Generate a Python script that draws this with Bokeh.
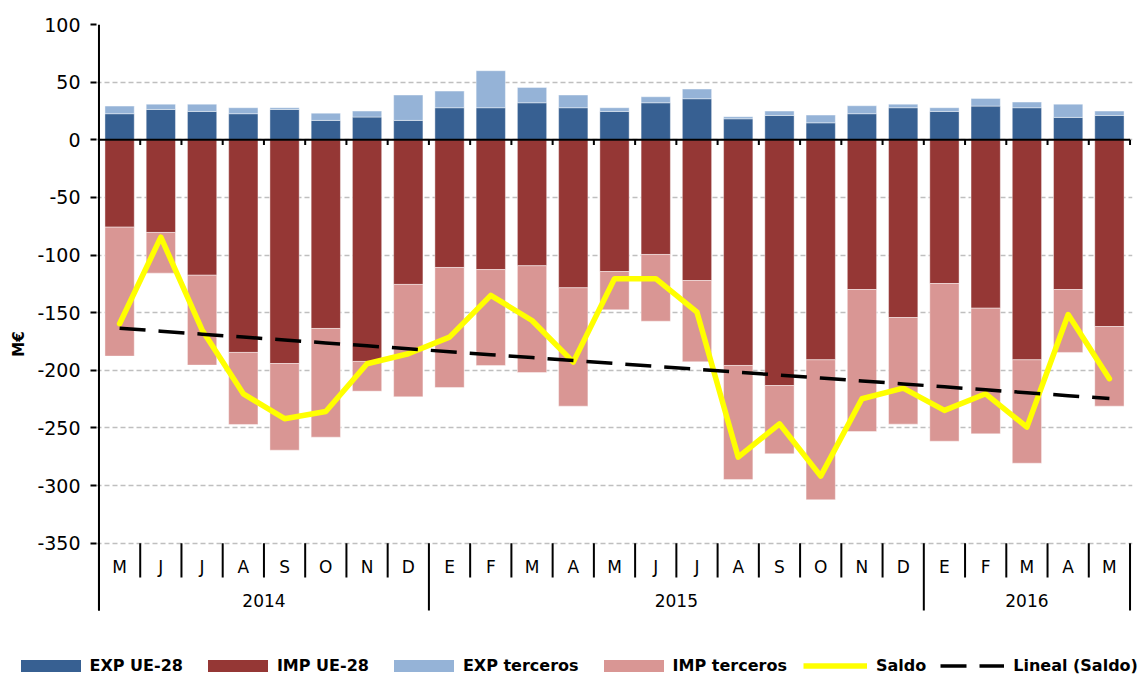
import numpy as np
from bokeh.plotting import figure
from bokeh.models import ColumnDataSource, FixedTicker, Range1d, Legend, LegendItem
from bokeh.core.properties import value
from bokeh.embed import file_html
from bokeh.resources import INLINE

# ---------------- data ----------------
months = ["M", "J", "J", "A", "S", "O", "N", "D",
          "E", "F", "M", "A", "M", "J", "J", "A", "S", "O", "N", "D",
          "E", "F", "M", "A", "M"]
years = ["2014", "2015", "2016"]
year_counts = [8, 12, 5]

exp_ue = [22.6, 26.3, 24.6, 22.6, 26.3, 16.8, 19.7, 16.8,
          27.8, 27.8, 32.1, 27.8, 24.6, 32.1, 35.6, 18.2, 21.1, 14.7, 22.6, 27.8,
          24.6, 29.2, 27.8, 19.4, 21.1]
exp_ter = [6.6, 4.6, 6.3, 5.2, 1.5, 6.3, 5.2, 22.0,
           14.4, 32.1, 13.3, 11.0, 3.2, 5.2, 8.4, 1.8, 3.8, 6.7, 6.9, 3.1,
           3.2, 6.7, 4.9, 11.5, 3.8]
imp_ue = [-75.8, -80.4, -117.5, -184.5, -194.1, -163.7, -192.3, -125.5,
          -110.8, -112.6, -109.3, -128.4, -114.3, -99.5, -122.1, -195.8, -213.2, -190.9, -129.9, -154.2,
          -124.7, -146.1, -190.9, -129.9, -162.0]
imp_ter = [-111.9, -35.3, -78.0, -62.5, -75.2, -94.3, -25.8, -97.5,
           -104.1, -83.2, -92.6, -102.7, -33.2, -57.9, -70.5, -98.9, -59.2, -121.4, -123.2, -92.5,
           -136.8, -109.0, -89.7, -54.6, -69.1]
saldo = [-159.6, -84.5, -165.0, -220.4, -242.0, -235.7, -194.3, -185.6,
         -171.2, -135.0, -156.8, -192.9, -120.5, -120.5, -149.6, -275.4, -246.4, -291.8, -224.7, -215.5,
         -234.8, -220.4, -249.3, -151.6, -207.3]
y_ticks = [100, 50, 0, -50, -100, -150, -200, -250, -300, -350]

# ---------------- colours ----------------
C_EXP_UE = "#376092"
C_IMP_UE = "#953735"
C_EXP_TER = "#95B3D7"
C_IMP_TER = "#D99694"
C_SALDO = "#FFFF00"
FONT = "DejaVu Sans"
NBSP = "\u00a0"

n = len(months)
xs = list(range(n))
src = ColumnDataSource(dict(x=xs, exp_ue=exp_ue, exp_ter=exp_ter,
                            imp_ue=imp_ue, imp_ter=imp_ter, saldo=saldo))

# linear trend of Saldo
coef = np.polyfit(np.array(xs, dtype=float), np.array(saldo), 1)
trend = list(np.polyval(coef, np.array(xs, dtype=float)))

Y_BOTTOM = -409.25
p = figure(width=1145, height=612, output_backend="svg", toolbar_location=None,
           x_range=Range1d(-0.56, n - 0.44), y_range=Range1d(Y_BOTTOM, 100),
           x_axis_location=None, min_border_left=96, min_border_right=13,
           min_border_top=24, min_border_bottom=1)
p.outline_line_color = None
p.xgrid.visible = False
p.background_fill_color = "white"

# y axis
ya = p.yaxis[0]
ya.ticker = FixedTicker(ticks=y_ticks)
ya.major_label_overrides = {t: str(t) for t in y_ticks}
ya.axis_line_color = None
ya.major_tick_out = 6
ya.major_tick_in = 0
ya.major_tick_line_width = 2
ya.major_tick_line_color = "black"
ya.minor_tick_line_color = None
ya.major_label_standoff = 10
ya.major_label_text_font = FONT
ya.major_label_text_font_size = "19px"
ya.major_label_text_color = "black"
ya.axis_label = "M€" + NBSP * 10
ya.axis_label_text_font = FONT
ya.axis_label_text_font_size = "15px"
ya.axis_label_text_font_style = "bold"
ya.axis_label_text_color = "black"
ya.axis_label_standoff = 6

p.ygrid.grid_line_color = "#BFBFBF"
p.ygrid.grid_line_dash = "5 3"
p.ygrid.grid_line_width = 1.5

# bars
pos = p.vbar_stack(["exp_ue", "exp_ter"], x="x", width=0.71, source=src,
                   color=[C_EXP_UE, C_EXP_TER], line_color="white", line_width=0.6, line_alpha=0.7)
neg = p.vbar_stack(["imp_ue", "imp_ter"], x="x", width=0.71, source=src,
                   color=[C_IMP_UE, C_IMP_TER], line_color="white", line_width=0.6, line_alpha=0.7)

# zero line and small category ticks under it
p.segment(x0=[-0.5], y0=[0], x1=[n - 0.5], y1=[0], line_color="black", line_width=2)
bounds = [i + 0.5 for i in range(-1, n)]
p.segment(x0=bounds, y0=[0] * len(bounds), x1=bounds, y1=[-4.6] * len(bounds),
          line_color="black", line_width=2)

# left axis line (down through the category label area)
p.segment(x0=[-0.5], y0=[100], x1=[-0.5], y1=[-408.3], line_color="black", line_width=2)

# category label separators
year_bounds = [-0.5]
acc = -0.5
for c in year_counts:
    acc += c
    year_bounds.append(acc)
month_bounds = [b for b in bounds if b not in year_bounds]
p.segment(x0=month_bounds, y0=[-350] * len(month_bounds), x1=month_bounds,
          y1=[-379.7] * len(month_bounds), line_color="black", line_width=2)
p.segment(x0=year_bounds, y0=[-350] * len(year_bounds), x1=year_bounds,
          y1=[-408.3] * len(year_bounds), line_color="black", line_width=2)

# month and year labels
p.text(x=xs, y=[-370.8] * n, text=months, text_font=value(FONT), text_font_size="17px",
       text_align="center", text_baseline="middle", text_color="black")
year_centers = [(year_bounds[i] + year_bounds[i + 1]) / 2 for i in range(len(years))]
p.text(x=year_centers, y=[-399.7] * len(years), text=years, text_font=value(FONT),
       text_font_size="17px", text_align="center", text_baseline="middle", text_color="black")

# lines
r_saldo = p.line(x="x", y="saldo", source=src, line_color=C_SALDO, line_width=5.5,
                 line_join="round", line_cap="round")
r_trend = p.line(x=xs, y=trend, line_color="black", line_width=3.5, line_dash="26 13")

# ---------------- legend strip (separate root, not frame-aligned) ----------------
lf = figure(width=1145, height=64, output_backend="svg", toolbar_location=None,
            x_range=Range1d(0, 1), y_range=Range1d(0, 1),
            x_axis_location=None, y_axis_location=None,
            min_border_left=0, min_border_right=0, min_border_top=0, min_border_bottom=0)
lf.outline_line_color = None
lf.grid.visible = False
lf.background_fill_color = "white"

# legend-only swatch renderers: zero-size marks that draw nothing themselves
l_exp_ue = lf.vbar(x=[0.5], bottom=[0.5], top=[0.5], width=0.0, fill_color=C_EXP_UE, line_color=None)
l_imp_ue = lf.vbar(x=[0.5], bottom=[0.5], top=[0.5], width=0.0, fill_color=C_IMP_UE, line_color=None)
l_exp_ter = lf.vbar(x=[0.5], bottom=[0.5], top=[0.5], width=0.0, fill_color=C_EXP_TER, line_color=None)
l_imp_ter = lf.vbar(x=[0.5], bottom=[0.5], top=[0.5], width=0.0, fill_color=C_IMP_TER, line_color=None)
l_saldo = lf.line(x=[0.5], y=[0.5], line_color=C_SALDO, line_width=5.5)
l_trend = lf.line(x=[0.5], y=[0.5], line_color="black", line_width=3.5, line_dash="26 13")


def style(leg):
    leg.orientation = "horizontal"
    leg.label_text_font = FONT
    leg.label_text_font_size = "16px"
    leg.label_text_font_style = "bold"
    leg.label_text_color = "black"
    leg.glyph_height = 15
    leg.padding = 0
    leg.margin = 0
    leg.border_line_color = None
    leg.background_fill_alpha = 0


leg_bars = Legend(items=[
    LegendItem(label="EXP UE-28", renderers=[l_exp_ue]),
    LegendItem(label="IMP UE-28", renderers=[l_imp_ue]),
    LegendItem(label="EXP terceros", renderers=[l_exp_ter]),
    LegendItem(label="IMP terceros", renderers=[l_imp_ter]),
], location=(12.5, 1))
style(leg_bars)
leg_bars.glyph_width = 75
leg_bars.label_standoff = 2
leg_bars.spacing = 17

leg_lines = Legend(items=[
    LegendItem(label="Saldo", renderers=[l_saldo]),
    LegendItem(label="Lineal (Saldo)", renderers=[l_trend]),
], location=(803, 1))
style(leg_lines)
leg_lines.glyph_width = 64
leg_lines.label_standoff = 9
leg_lines.spacing = 14

lf.add_layout(leg_bars, "center")
lf.add_layout(leg_lines, "center")

open("out.html", "w").write(file_html([p, lf], INLINE))
